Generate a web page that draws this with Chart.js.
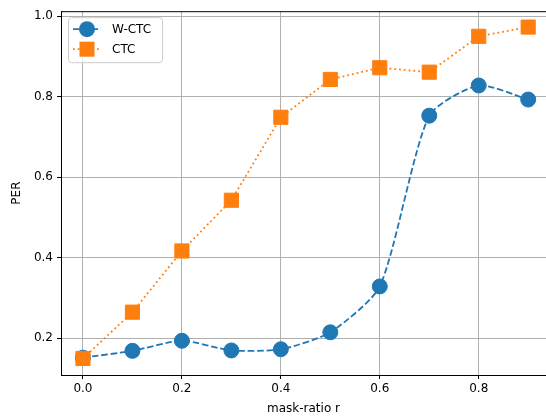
<!DOCTYPE html>
<html>
<head>
    <title>PER vs mask-ratio</title>
    <script src="https://cdn.jsdelivr.net/npm/chart.js"></script>
    <style>
        html, body { margin: 0; padding: 0; background: #fff; overflow: hidden; }
        #chartBox { width: 546px; height: 416px; }
    </style>
</head>
<body>
    <div id="chartBox">
        <canvas id="perChart" width="546" height="416"></canvas>
    </div>
    <script>
        const maskRatio = [0.0, 0.1, 0.2, 0.3, 0.4, 0.5, 0.6, 0.7, 0.8, 0.9];
        const wctcPer = [0.152, 0.169, 0.194, 0.170, 0.173, 0.215, 0.329, 0.753, 0.828, 0.793];
        const ctcPer = [0.150, 0.265, 0.417, 0.543, 0.749, 0.843, 0.872, 0.861, 0.950, 0.973];
        const xTicks = [0.0, 0.2, 0.4, 0.6, 0.8];
        const yTicks = [0.2, 0.4, 0.6, 0.8, 1.0];

        const FONT = 'DejaVu Sans';

        // matplotlib-ish legend inside the axes plus the top spine
        const mplExtras = {
            id: 'mplExtras',
            afterDraw(chart) {
                const ctx = chart.ctx;
                const area = chart.chartArea;
                ctx.save();
                ctx.strokeStyle = '#000';
                ctx.lineWidth = 1;
                ctx.beginPath();
                ctx.moveTo(area.left, area.top + 0.5);
                ctx.lineTo(area.right, area.top + 0.5);
                ctx.stroke();

                const bx = area.left + 7, by = area.top + 6, bw = 94, bh = 45;
                ctx.fillStyle = 'rgba(255,255,255,0.8)';
                ctx.strokeStyle = '#cccccc';
                ctx.beginPath();
                ctx.roundRect(bx + 0.5, by + 0.5, bw, bh, 3);
                ctx.fill();
                ctx.stroke();

                chart.data.datasets.forEach((ds, i) => {
                    const y = by + 12 + i * 20;
                    const x0 = bx + 5, x1 = bx + 33, xm = (x0 + x1) / 2;
                    ctx.strokeStyle = ds.borderColor;
                    ctx.lineWidth = ds.borderWidth;
                    ctx.setLineDash(ds.borderDash);
                    ctx.beginPath();
                    ctx.moveTo(x0, y);
                    ctx.lineTo(x1, y);
                    ctx.stroke();
                    ctx.setLineDash([]);
                    ctx.fillStyle = ds.backgroundColor;
                    ctx.beginPath();
                    if (ds.pointStyle === 'rect') {
                        ctx.rect(xm - 7.5, y - 7.5, 15, 15);
                    } else {
                        ctx.arc(xm, y, 8, 0, Math.PI * 2);
                    }
                    ctx.fill();
                    ctx.fillStyle = '#000';
                    ctx.font = '12px ' + FONT;
                    ctx.textBaseline = 'middle';
                    ctx.fillText(ds.label, bx + 44, y + 1);
                });
                ctx.restore();
            }
        };

        const ctx = document.getElementById('perChart').getContext('2d');
        const chart = new Chart(ctx, {
            type: 'line',
            data: {
                datasets: [
                    {
                        label: 'W-CTC',
                        data: maskRatio.map((x, i) => ({ x: x, y: wctcPer[i] })),
                        borderColor: '#1f77b4',
                        backgroundColor: '#1f77b4',
                        borderWidth: 1.8,
                        borderDash: [6.5, 2.8],
                        pointStyle: 'circle',
                        pointRadius: 7.5,
                        pointBorderWidth: 1,
                        pointBackgroundColor: '#1f77b4',
                        pointBorderColor: '#1f77b4',
                        tension: 0.22,
                        order: 1,
                        clip: false
                    },
                    {
                        label: 'CTC',
                        data: maskRatio.map((x, i) => ({ x: x, y: ctcPer[i] })),
                        borderColor: '#ff7f0e',
                        backgroundColor: '#ff7f0e',
                        borderWidth: 1.8,
                        borderDash: [1.8, 3],
                        pointStyle: 'rect',
                        pointRadius: 10,
                        pointBorderWidth: 1,
                        pointBackgroundColor: '#ff7f0e',
                        pointBorderColor: '#ff7f0e',
                        order: 0,
                        clip: false
                    }
                ]
            },
            options: {
                responsive: false,
                maintainAspectRatio: false,
                animation: false,
                devicePixelRatio: 1,
                layout: { autoPadding: false, padding: { top: 11, right: 0, left: 0, bottom: 0 } },
                plugins: {
                    legend: { display: false },
                    tooltip: { enabled: false }
                },
                scales: {
                    x: {
                        type: 'linear',
                        min: -0.0444,
                        max: 0.936,
                        afterBuildTicks: s => { s.ticks = xTicks.map(v => ({ value: v })); },
                        afterFit: s => { s.height = 41; },
                        ticks: {
                            color: '#000',
                            font: { family: FONT, size: 12 },
                            padding: 3,
                            maxRotation: 0,
                            callback: v => v.toFixed(1)
                        },
                        grid: { color: '#b0b0b0', lineWidth: 1, tickColor: '#000', tickLength: 4 },
                        border: { color: '#000', width: 1 },
                        title: {
                            display: true,
                            text: 'mask-ratio r',
                            color: '#000',
                            font: { family: FONT, size: 12 },
                            padding: { top: 3, bottom: 0 }
                        }
                    },
                    y: {
                        type: 'linear',
                        min: 0.109,
                        max: 1.0124,
                        afterBuildTicks: s => { s.ticks = yTicks.map(v => ({ value: v })); },
                        afterFit: s => { s.width = 61; },
                        ticks: {
                            color: '#000',
                            font: { family: FONT, size: 12 },
                            padding: 4,
                            callback: v => v.toFixed(1)
                        },
                        grid: { color: '#b0b0b0', lineWidth: 1, tickColor: '#000', tickLength: 4 },
                        border: { color: '#000', width: 1 },
                        title: {
                            display: true,
                            text: 'PER',
                            color: '#000',
                            font: { family: FONT, size: 12 },
                            padding: { top: 10, bottom: 0 }
                        }
                    }
                }
            },
            plugins: [mplExtras]
        });
    </script>
</body>
</html>
